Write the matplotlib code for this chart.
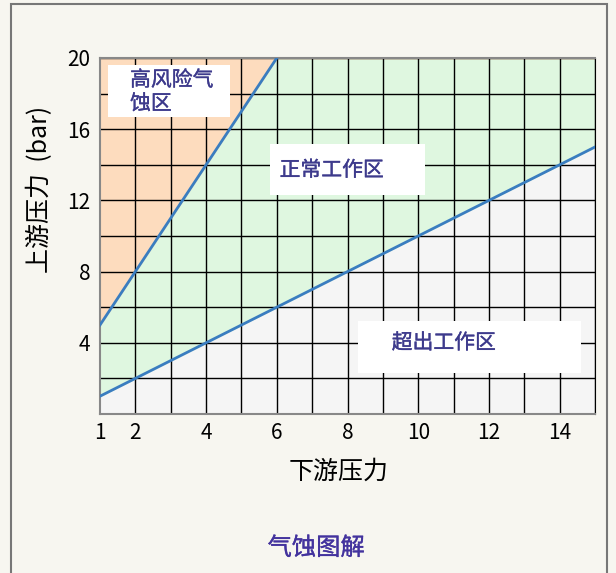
import numpy as np
import matplotlib.pyplot as plt
import matplotlib.patheffects as pe
from matplotlib.patches import Rectangle

plt.rcParams['font.family'] = ['Noto Sans CJK SC', 'DejaVu Sans']

# boundary lines (downstream pressure -> upstream pressure)
x_line = [1, 15]
y_lower = [1, 15]          # choke limit
x_upper = [1, 6]
y_upper = [5, 20]          # cavitation limit
x_ticks = [1, 2, 4, 6, 8, 10, 12, 14]
y_ticks = [4, 8, 12, 16, 20]
region_labels = ['高风险气\n蚀区', '正常工作区', '超出工作区']

W, H = 616, 573
fig = plt.figure(figsize=(W / 100, H / 100), dpi=100, facecolor='#f7f6f0')
ax = fig.add_axes([100/W, 1 - 414/H, 495/W, 356/H])

xmin, xmax, ymin, ymax = 1, 15, 0, 20
upf = lambda x: y_upper[0] + (np.asarray(x) - x_upper[0]) * (y_upper[1] - y_upper[0]) / (x_upper[1] - x_upper[0])
lof = lambda x: y_lower[0] + (np.asarray(x) - x_line[0]) * (y_lower[1] - y_lower[0]) / (x_line[1] - x_line[0])

xs = np.linspace(xmin, xmax, 500)
ax.fill_between(xs, ymin, np.clip(lof(xs), ymin, ymax), color='#f5f5f5', zorder=0)
ax.fill_between(xs, np.clip(lof(xs), ymin, ymax), np.clip(upf(xs), ymin, ymax), color='#dff7e0', zorder=0)
ax.fill_between(xs, np.clip(upf(xs), ymin, ymax), ymax, color='#fddcbe', zorder=0)

for gx in range(xmin + 1, xmax + 1):
    ax.axvline(gx, color='black', lw=1, zorder=1)
for gy in range(2, ymax + 1, 2):
    ax.axhline(gy, color='black', lw=1, zorder=1)

# white label boxes
boxes = [(1.23, 16.7, 3.44, 2.9), (5.80, 12.3, 4.38, 2.87), (8.29, 2.30, 6.3, 2.92)]
for bx, by, bw, bh in boxes:
    ax.add_patch(Rectangle((bx, by), bw, bh, facecolor='white', edgecolor='none', zorder=2))

ax.plot(x_upper, y_upper, color='#3a7dc0', lw=2, zorder=3)
ax.plot(x_line, y_lower, color='#3a7dc0', lw=2, zorder=3)

tc = '#3d3a8c'
thick = lambda c: [pe.withStroke(linewidth=0.25, foreground=c)]
ax.text(1.85, 18.1, region_labels[0], color=tc, fontsize=15, va='center', ha='left',
        linespacing=1.1, path_effects=thick(tc), zorder=4)
ax.text(6.08, 13.7, region_labels[1], color=tc, fontsize=15, va='center', ha='left',
        style='italic', path_effects=thick(tc), zorder=4)
ax.text(9.25, 4.0, region_labels[2], color=tc, fontsize=15, va='center', ha='left',
        style='italic', path_effects=thick(tc), zorder=4)

ax.set_xlim(xmin, xmax)
ax.set_ylim(ymin, ymax)
ax.set_xticks(x_ticks)
ax.set_yticks(y_ticks)
ax.tick_params(length=0, labelsize=15)
ax.tick_params(axis='x', pad=6)
ax.tick_params(axis='y', pad=7)
for s in ['left', 'bottom', 'top']:
    ax.spines[s].set_color('#888888')
    ax.spines[s].set_linewidth(1.5)
ax.spines['right'].set_color('black')

fig.text(339/W, 1 - 472/H, '下游压力', fontsize=18, ha='center', va='center')
fig.text(40/W, 1 - 189/H, '上游压力  (bar)', fontsize=18, ha='center', va='center',
         rotation=90)
fig.text(316/W, 1 - 548/H, '气蚀图解', color='#43339e', fontsize=17.5,
         ha='center', va='center', style='italic', path_effects=thick('#43339e'))

fig.add_artist(Rectangle((11/W, -0.05), (607-11)/W, 1.05 - 4/H,
                         transform=fig.transFigure, fill=False,
                         edgecolor='#777777', lw=1.5))

fig.savefig('out.png', dpi=100, facecolor=fig.get_facecolor())
